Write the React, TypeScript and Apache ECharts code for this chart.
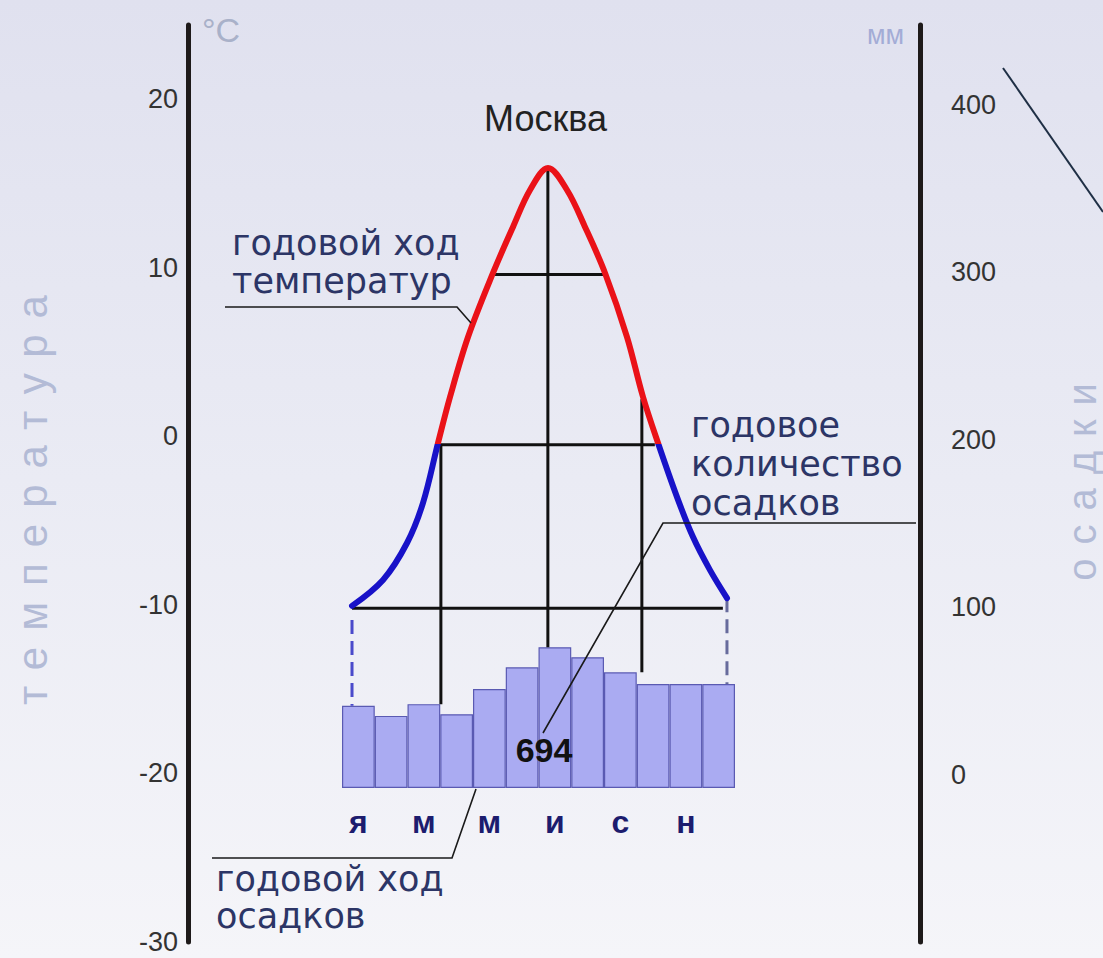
import { useEffect, useRef } from 'react';
import * as echarts from 'echarts';

// ---- data ----
const MONTHS = ['я', 'ф', 'м', 'а', 'м', 'и', 'и', 'а', 'с', 'о', 'н', 'д'];
const PRECIP_MM = [49, 43, 50, 44, 59, 72, 84, 78, 69, 62, 62, 62];
const ANNUAL_PRECIP = 694;
const CITY = 'Москва';
// temperature curve: position in months (0 = январь) and °C
const CURVE_MONTH = [0, 0.907, 1.609, 2.077, 2.516, 2.867, 3.394, 4.125, 4.71, 5.208, 5.734, 6.29, 6.817, 7.402, 8.046, 8.514, 8.953, 9.509, 9.977, 10.474, 10.971];
const CURVE_TEMP = [-10.06, -8.52, -6.33, -3.95, -0.4, 2.33, 5.89, 9.69, 12.42, 14.61, 15.92, 14.61, 12.42, 9.69, 5.89, 2.33, -0.4, -3.61, -5.98, -7.94, -9.6];
const TEMP_TICKS = [-30, -20, -10, 0, 10, 20];
const MM_TICKS = [0, 100, 200, 300, 400];
// horizontal construction lines (°C, from month, to month)
const ISO_TEMP = [9.6, -0.5, -10.2];
const ISO_FROM = [4.18, 2.57, 0];
const ISO_TO = [7.4, 8.86, 10.85];
// vertical construction lines (month position, top °C, bar it drops to)
const DROP_MONTH = [2.6, 5.73, 8.48];
const DROP_TOP = [-0.5, 15.9, 2.2];
const DROP_BAR = [2, 6, 8];
// dashed end lines
const DASH_MONTH = [0, 10.97];
const DASH_TOP = [-10.9, -9.6];
const DASH_BAR = [0, 11];
const ZERO_LEVEL = -0.45;

// ---- axis ranges / layout ----
const TEMP_MIN = -30;
const TEMP_MAX = 24.4;
const MM_MIN = -100;
const MM_MAX = 447.5;
const BAR_MIN = -92;
const BAR_MAX = 455.5;
const MONTH_MIN = -0.293;
const MONTH_MAX = 11.205;
const GRID_TOP = 25;
const GRID_HEIGHT = 917;
const CHART_H = 958;

const FONT = "'Liberation Sans', Arial, sans-serif";
const WIDE_FONT = "'DejaVu Sans', Verdana, sans-serif";
const NAVY = '#2c3566';
const RED = '#ea1218';
const BLUE = '#1812c8';

export default function App() {
  const ref = useRef<HTMLDivElement>(null);

  useEffect(() => {
    const el = ref.current!;
    const chart = echarts.init(el, null, { renderer: 'svg' });
    const barTopTemp = (mm: number) =>
      TEMP_MIN + ((mm - BAR_MIN) / (BAR_MAX - BAR_MIN)) * (TEMP_MAX - TEMP_MIN);
    const zeroY = GRID_TOP + ((TEMP_MAX - ZERO_LEVEL) / (TEMP_MAX - TEMP_MIN)) * GRID_HEIGHT;
    const f = zeroY / CHART_H;

    const seg = (pts: number[][], color: string, width: number, type: any, z: number) => ({
      type: 'line',
      xAxisIndex: 1,
      yAxisIndex: 0,
      data: pts,
      symbol: 'none',
      showSymbol: false,
      silent: true,
      z,
      lineStyle: { color, width, type, cap: 'butt' },
    });

    const isoSeries = ISO_TEMP.map((t, i) =>
      seg([[ISO_FROM[i], t], [ISO_TO[i], t]], '#111', 3, 'solid', 3)
    );
    const dropSeries = DROP_MONTH.map((m, i) =>
      seg([[m, DROP_TOP[i]], [m, barTopTemp(PRECIP_MM[DROP_BAR[i]])]], '#111', 3, 'solid', 3)
    );
    const dashSeries = DASH_MONTH.map((m, i) =>
      seg([[m, DASH_TOP[i]], [m, barTopTemp(PRECIP_MM[DASH_BAR[i]])]], i === 0 ? '#4a4acb' : '#676b9c', 3, [14, 7], 3)
    );

    const axisLineStyle = { show: true, onZero: false, lineStyle: { color: '#1e1a1a', width: 5 } };

    chart.setOption({
      animation: false,
      backgroundColor: 'transparent',
      textStyle: { fontFamily: FONT },
      title: {
        text: CITY,
        left: 484,
        top: 100,
        padding: 0,
        textStyle: { fontSize: 36, fontWeight: 'normal', color: '#222', fontFamily: FONT },
      },
      grid: { left: 342, top: GRID_TOP, width: 393, height: GRID_HEIGHT },
      xAxis: [
        {
          type: 'category',
          data: MONTHS,
          boundaryGap: true,
          offset: -154,
          axisLine: { show: false },
          axisTick: { show: false },
          axisLabel: {
            interval: 1,
            margin: 18,
            fontSize: 32,
            fontWeight: 'bold',
            color: '#1c1c6e',
            fontFamily: FONT,
          },
          splitLine: { show: false },
        },
        { type: 'value', min: MONTH_MIN, max: MONTH_MAX, show: false, position: 'top' },
      ],
      yAxis: [
        {
          type: 'value',
          position: 'left',
          offset: 154,
          min: TEMP_MIN,
          max: TEMP_MAX,
          interval: 10,
          axisLine: axisLineStyle,
          axisTick: { show: false },
          splitLine: { show: false },
          axisLabel: {
            margin: 10,
            fontSize: 27,
            color: '#333',
            fontFamily: FONT,
            showMaxLabel: false,
            formatter: (v: number) => (TEMP_TICKS.includes(v) ? String(v) : ''),
          },
        },
        {
          type: 'value',
          position: 'right',
          offset: 185,
          min: MM_MIN,
          max: MM_MAX,
          interval: 100,
          axisLine: axisLineStyle,
          axisTick: { show: false },
          splitLine: { show: false },
          axisLabel: {
            margin: 31,
            fontSize: 27,
            color: '#333',
            fontFamily: FONT,
            showMaxLabel: false,
            formatter: (v: number) => (MM_TICKS.includes(v) ? String(v) : ''),
          },
        },
        { type: 'value', min: BAR_MIN, max: BAR_MAX, show: false },
      ],
      series: [
        {
          type: 'bar',
          xAxisIndex: 0,
          yAxisIndex: 2,
          data: PRECIP_MM,
          barCategoryGap: '0%',
          silent: true,
          z: 2,
          itemStyle: { color: '#aaabf2', borderColor: '#5a5ab2', borderWidth: 1.2 },
        },
        {
          type: 'line',
          xAxisIndex: 1,
          yAxisIndex: 0,
          data: CURVE_MONTH.map((m, i) => [m, CURVE_TEMP[i]]),
          smooth: 0.35,
          symbol: 'none',
          showSymbol: false,
          silent: true,
          z: 5,
          lineStyle: {
            width: 6,
            cap: 'round',
            join: 'round',
            color: {
              type: 'linear',
              x: 0, y: 0, x2: 0, y2: CHART_H,
              global: true,
              colorStops: [
                { offset: 0, color: RED },
                { offset: f, color: RED },
                { offset: f, color: BLUE },
                { offset: 1, color: BLUE },
              ],
            },
          },
        },
        ...isoSeries,
        ...dropSeries,
        ...dashSeries,
      ],
      graphic: [
        {
          type: 'text', x: 202, y: 30, z: 10,
          style: { text: '°C', fontSize: 34, fontFamily: FONT, fill: '#a9b1c9', textVerticalAlign: 'middle' },
        },
        {
          type: 'text', x: 867, y: 35, z: 10,
          style: { text: 'мм', fontSize: 27, fontFamily: FONT, fill: '#a3acd6', textVerticalAlign: 'middle' },
        },
        {
          type: 'text', x: 32, y: 492, rotation: Math.PI / 2, z: 10,
          style: { text: 'температура', fontSize: 42, fontFamily: FONT, fill: '#b3bbd6', textAlign: 'center', textVerticalAlign: 'middle' },
        },
        {
          type: 'text', x: 1082, y: 475, rotation: Math.PI / 2, z: 10,
          style: { text: 'осадки', fontSize: 40, fontFamily: FONT, fill: '#b3bbd6', textAlign: 'center', textVerticalAlign: 'middle' },
        },
        {
          type: 'text', x: 232, y: 262, z: 10,
          style: { text: 'годовой ход\nтемператур', fontSize: 35, lineHeight: 38, fontFamily: WIDE_FONT, fill: NAVY, textVerticalAlign: 'middle' },
        },
        {
          type: 'text', x: 691, y: 464, z: 10,
          style: { text: 'годовое\nколичество\nосадков', fontSize: 35, lineHeight: 39, fontFamily: WIDE_FONT, fill: NAVY, textVerticalAlign: 'middle' },
        },
        {
          type: 'text', x: 216, y: 897, z: 10,
          style: { text: 'годовой ход\nосадков', fontSize: 35, lineHeight: 37, fontFamily: WIDE_FONT, fill: NAVY, textVerticalAlign: 'middle' },
        },
        {
          type: 'text', x: 544, y: 750, z: 10,
          style: { text: String(ANNUAL_PRECIP), fontSize: 34, fontWeight: 'bold', fontFamily: FONT, fill: '#111', textAlign: 'center', textVerticalAlign: 'middle' },
        },
        {
          type: 'polyline', z: 10,
          shape: { points: [[225, 307], [457, 307], [471, 323]] },
          style: { stroke: '#1a1a1a', lineWidth: 1.6, fill: null },
        },
        {
          type: 'polyline', z: 10,
          shape: { points: [[916, 523], [663, 523], [543, 733]] },
          style: { stroke: '#1a1a1a', lineWidth: 1.6, fill: null },
        },
        {
          type: 'polyline', z: 10,
          shape: { points: [[212, 858], [452, 858], [476, 789]] },
          style: { stroke: '#1a1a1a', lineWidth: 1.6, fill: null },
        },
        {
          type: 'line', z: 10,
          shape: { x1: 1003, y1: 68, x2: 1103, y2: 212 },
          style: { stroke: '#1f2f45', lineWidth: 2 },
        },
      ],
    });

    const spacing: Record<string, string> = { 'температура': '16px', 'осадки': '14px' };
    const applySpacing = () => {
      el.querySelectorAll('text').forEach((t) => {
        const s = spacing[(t.textContent || '').trim()];
        if (s) (t as SVGTextElement).style.letterSpacing = s;
      });
    };
    applySpacing();
    chart.on('finished', applySpacing);
    const timer = window.setTimeout(applySpacing, 50);

    return () => {
      window.clearTimeout(timer);
      chart.dispose();
    };
  }, []);

  return (
    <div
      ref={ref}
      style={{
        position: 'fixed',
        left: 0,
        top: 0,
        width: 1103,
        height: 958,
        background: 'linear-gradient(180deg, #e0e1ef 0%, #eaebf4 50%, #f5f5f9 100%)',
      }}
    />
  );
}
